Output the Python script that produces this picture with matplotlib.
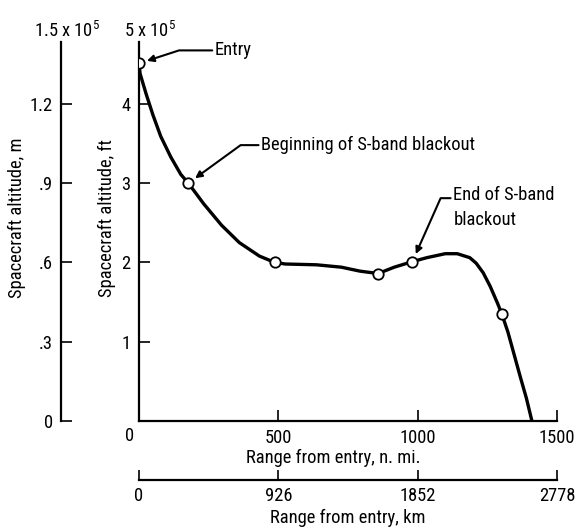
import matplotlib
matplotlib.use("Agg")
import matplotlib.pyplot as plt
from matplotlib import font_manager

# pick a narrow face if one is installed
have = {f.name for f in font_manager.fontManager.ttflist}
narrow = [n for n in ['Liberation Sans Narrow', 'DejaVu Sans Condensed', 'Roboto Condensed',
                      'Open Sans Condensed', 'Noto Sans Condensed'] if n in have]
plt.rcParams['font.family'] = narrow[:1] + ['DejaVu Sans']
plt.rcParams['mathtext.default'] = 'regular'
fs = 13.3 if narrow else 11

# trajectory: range (n. mi.), altitude (1e5 ft)
curve_x = [0, 4, 26, 50, 78, 114, 150, 177, 232, 296, 360, 432, 487, 525, 637, 726, 793, 858,
           916, 981, 1033, 1099, 1142, 1187, 1210, 1235, 1260, 1286, 1302, 1324, 1346, 1368,
           1390, 1410]
curve_y = [4.51, 4.38, 4.12, 3.86, 3.59, 3.33, 3.11, 3.0, 2.74, 2.47, 2.25, 2.08, 2.0, 1.98, 1.97,
           1.94, 1.89, 1.86, 1.94, 2.01, 2.06, 2.11, 2.11, 2.06, 1.99, 1.87, 1.70, 1.49, 1.35,
           1.12, 0.84, 0.56, 0.29, 0.0]

# open circles on the curve
point_x = [0, 177, 487, 858, 981, 1302]
point_y = [4.51, 3.0, 2.0, 1.86, 2.01, 1.35]

ft_ticks = [1, 2, 3, 4]
m_ticks = [0, 0.3, 0.6, 0.9, 1.2]
m_labels = ['0', '.3', '.6', '.9', '1.2']
nmi_ticks = [500, 1000, 1500]
km_ticks = [0, 926, 1852, 2778]

W, H = 577, 530
fig = plt.figure(figsize=(W / 100, H / 100), dpi=100)
L, R, B, T = 139, 557, 421, 42
ax = fig.add_axes([L / W, 1 - B / H, (R - L) / W, (B - T) / H])

ax.plot(curve_x, curve_y, color='black', lw=2.4, solid_capstyle='round',
        solid_joinstyle='round', zorder=2)
ax.plot(point_x, point_y, 'o', ms=7.5, mfc='white', mec='black', mew=1.3, zorder=3)

ax.set_xlim(0, 1500)
ax.set_ylim(0, 4.78)
for s in ['top', 'right']:
    ax.spines[s].set_visible(False)
for s in ['left', 'bottom']:
    ax.spines[s].set_linewidth(1.6)

ax.set_xticks(nmi_ticks)
ax.set_xticklabels([str(t) for t in nmi_ticks], fontsize=fs)
ax.set_yticks(ft_ticks)
ax.set_yticklabels([str(t) for t in ft_ticks], fontsize=fs)
ax.tick_params(direction='in', length=8, width=1.2, pad=6)
ax.set_xlabel('Range from entry, n. mi.', fontsize=fs)
ax.xaxis.set_label_coords((333 - L) / (R - L), -(449 - B) / (B - T))
ax.annotate('0', xy=(0, 0), xytext=(-9, -15), textcoords='offset pixels',
            ha='center', va='center', fontsize=fs)

# metres axis
may = ax.secondary_yaxis(-(L - 61) / (R - L), functions=(lambda f: f * 0.3, lambda m: m / 0.3))
may.set_yticks(m_ticks)
may.set_yticklabels(m_labels, fontsize=fs)
may.tick_params(direction='in', length=8, width=1.2, pad=6)
may.spines['left'].set_linewidth(1.6)

fig.text(17 / W, 1 - 218 / H, 'Spacecraft altitude, m', rotation=90,
         ha='center', va='center', fontsize=fs)
fig.text(107 / W, 1 - 218 / H, 'Spacecraft altitude, ft', rotation=90,
         ha='center', va='center', fontsize=fs)

# kilometres axis
kax = ax.secondary_xaxis(-(480 - B) / (B - T), functions=(lambda n: n * 1.852, lambda k: k / 1.852))
kax.set_xticks(km_ticks)
kax.set_xticklabels([str(t) for t in km_ticks], fontsize=fs)
kax.tick_params(direction='in', length=7, width=1.2, pad=5)
kax.spines['bottom'].set_linewidth(1.6)
kax.set_xlabel('Range from entry, km', fontsize=fs, labelpad=3)

fig.text(67 / W, 1 - 31 / H, '1.5 x 10$^5$', ha='center', va='center', fontsize=fs)
fig.text(150 / W, 1 - 31 / H, '5 x 10$^5$', ha='center', va='center', fontsize=fs)

arrow = dict(arrowstyle='-|>', color='black', lw=1.5, mutation_scale=10,
             shrinkA=0, shrinkB=6, relpos=(0, 0.5))
ax.annotate('Entry', xy=(point_x[0], point_y[0]), xytext=(76, 13),
            textcoords='offset pixels', ha='left', va='center', fontsize=fs,
            arrowprops=dict(arrow, connectionstyle='angle,angleA=0,angleB=18,rad=0'))
ax.annotate('Beginning of S-band blackout', xy=(point_x[1], point_y[1]), xytext=(73, 38),
            textcoords='offset pixels', ha='left', va='center', fontsize=fs,
            arrowprops=dict(arrow, connectionstyle='angle,angleA=0,angleB=36,rad=0'))
ax.annotate('End of S-band\nblackout', xy=(point_x[4], point_y[4]), xytext=(41, 54),
            textcoords='offset pixels', ha='left', va='center', fontsize=fs,
            linespacing=1.5,
            arrowprops=dict(arrow, connectionstyle='angle,angleA=0,angleB=66,rad=0',
                            relpos=(0, 0.72)))

fig.savefig('out.png', dpi=100)
